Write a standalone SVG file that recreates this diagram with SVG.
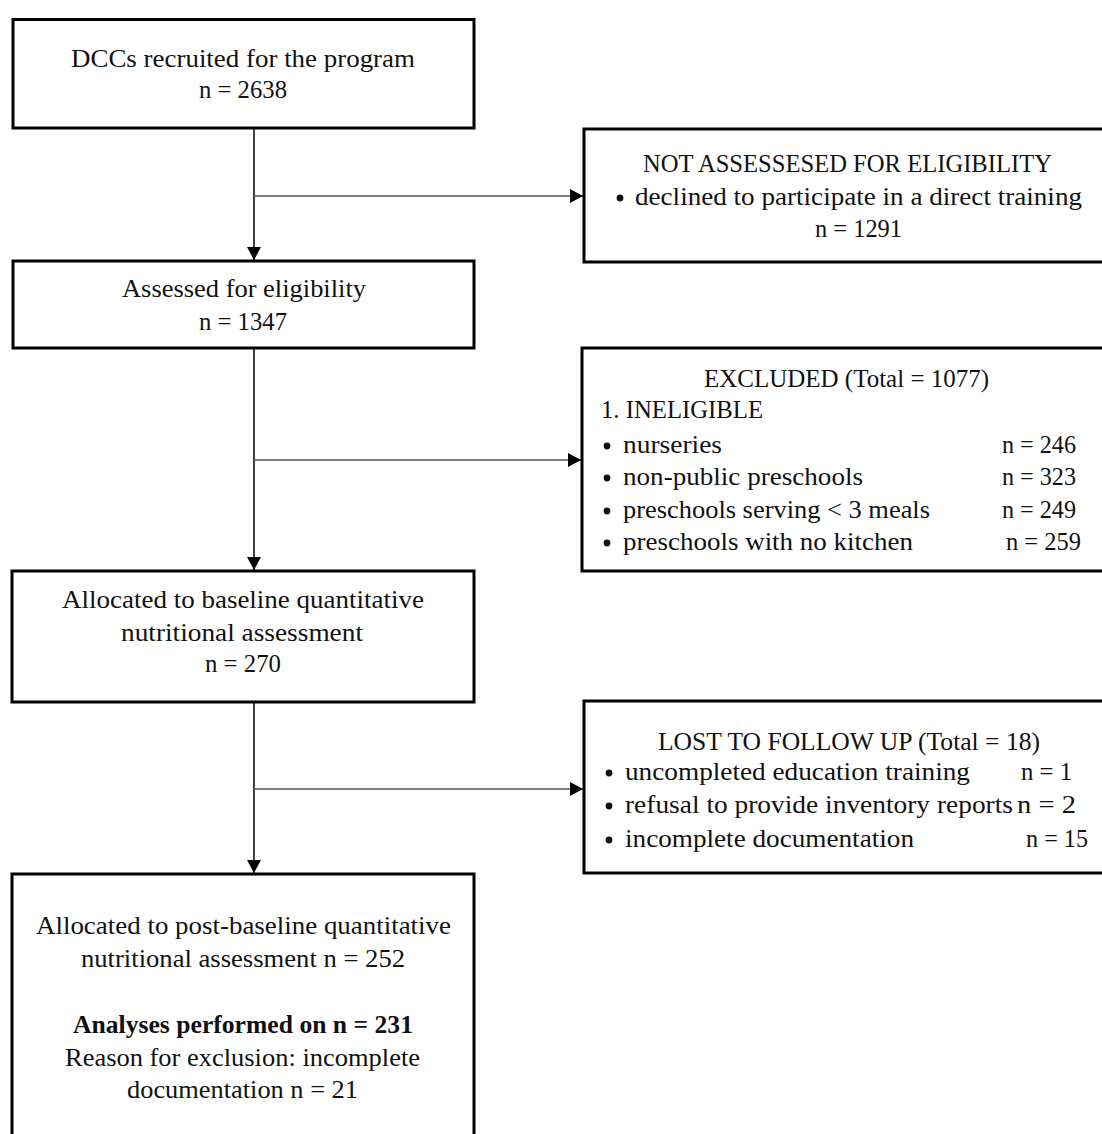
<svg xmlns="http://www.w3.org/2000/svg" width="1102" height="1134" viewBox="0 0 1102 1134">
<style>
.box{fill:#fff;stroke:#000;stroke-width:3}
text{font-family:"Liberation Serif","DejaVu Serif",serif;font-size:25.5px;fill:#111}
.c{text-anchor:middle}
.e{text-anchor:end}
.b{font-weight:bold}
.v{stroke:#111;stroke-width:1.6;fill:none}
.h{stroke:#555;stroke-width:1.6;fill:none}
</style>
<defs>
<marker id="arr" viewBox="0 0 13 14" refX="13" refY="7" markerWidth="13" markerHeight="14" markerUnits="userSpaceOnUse" orient="auto">
<path d="M0,0 L13,7 L0,14 z" fill="#000"/>
</marker>
</defs>
<rect width="1102" height="1134" fill="#fff"/>
<g id="connectors">
<line class="v" x1="254" y1="128" x2="254" y2="260" marker-end="url(#arr)"/>
<line class="h" x1="254" y1="196" x2="583" y2="196" marker-end="url(#arr)"/>
<line class="v" x1="254" y1="348" x2="254" y2="570" marker-end="url(#arr)"/>
<line class="h" x1="254" y1="460" x2="581" y2="460" marker-end="url(#arr)"/>
<line class="v" x1="254" y1="702" x2="254" y2="873" marker-end="url(#arr)"/>
<line class="h" x1="254" y1="789" x2="583" y2="789" marker-end="url(#arr)"/>
</g>
<g id="recruited">
<rect class="box" x="13" y="19.5" width="461" height="108.5"/>
<text x="71" y="67" textLength="344" lengthAdjust="spacingAndGlyphs">DCCs recruited for the program</text>
<text x="199" y="98" textLength="88" lengthAdjust="spacingAndGlyphs">n = 2638</text>
</g>
<g id="not-assessed">
<rect class="box" x="584" y="129" width="530" height="133"/>
<text x="643" y="172" textLength="409" lengthAdjust="spacingAndGlyphs">NOT ASSESSESED FOR ELIGIBILITY</text>
<circle cx="620" cy="198" r="3.4" fill="#111"/>
<text x="635" y="205" textLength="447" lengthAdjust="spacingAndGlyphs">declined to participate in a direct training</text>
<text x="815" y="237" textLength="87" lengthAdjust="spacingAndGlyphs">n = 1291</text>
</g>
<g id="assessed">
<rect class="box" x="13" y="261" width="461" height="87"/>
<text x="122" y="297" textLength="244" lengthAdjust="spacingAndGlyphs">Assessed for eligibility</text>
<text x="199" y="330" textLength="88" lengthAdjust="spacingAndGlyphs">n = 1347</text>
</g>
<g id="excluded">
<rect class="box" x="582" y="348" width="532" height="223"/>
<text x="704" y="387" textLength="285" lengthAdjust="spacingAndGlyphs">EXCLUDED (Total = 1077)</text>
<text x="601" y="418" textLength="162" lengthAdjust="spacingAndGlyphs">1. INELIGIBLE</text>
<circle cx="607" cy="446" r="3.4" fill="#111"/>
<text x="623" y="453" textLength="99" lengthAdjust="spacingAndGlyphs">nurseries</text>
<text x="1002" y="453" textLength="74" lengthAdjust="spacingAndGlyphs">n = 246</text>
<circle cx="607" cy="478" r="3.4" fill="#111"/>
<text x="623" y="485" textLength="240" lengthAdjust="spacingAndGlyphs">non-public preschools</text>
<text x="1002" y="485" textLength="74" lengthAdjust="spacingAndGlyphs">n = 323</text>
<circle cx="607" cy="511" r="3.4" fill="#111"/>
<text x="623" y="518" textLength="307" lengthAdjust="spacingAndGlyphs">preschools serving &lt; 3 meals</text>
<text x="1002" y="518" textLength="74" lengthAdjust="spacingAndGlyphs">n = 249</text>
<circle cx="607" cy="543" r="3.4" fill="#111"/>
<text x="623" y="550" textLength="290" lengthAdjust="spacingAndGlyphs">preschools with no kitchen</text>
<text x="1006" y="550" textLength="75" lengthAdjust="spacingAndGlyphs">n = 259</text>
</g>
<g id="baseline">
<rect class="box" x="12" y="571" width="462" height="131"/>
<text x="62" y="608" textLength="362" lengthAdjust="spacingAndGlyphs">Allocated to baseline quantitative</text>
<text x="121" y="641" textLength="242" lengthAdjust="spacingAndGlyphs">nutritional assessment</text>
<text x="205" y="672" textLength="76" lengthAdjust="spacingAndGlyphs">n = 270</text>
</g>
<g id="lost">
<rect class="box" x="584" y="701" width="530" height="172"/>
<text x="658" y="750" textLength="382" lengthAdjust="spacingAndGlyphs">LOST TO FOLLOW UP (Total = 18)</text>
<circle cx="609" cy="773" r="3.4" fill="#111"/>
<text x="625" y="780" textLength="345" lengthAdjust="spacingAndGlyphs">uncompleted education training</text>
<text x="1021" y="780" textLength="51" lengthAdjust="spacingAndGlyphs">n = 1</text>
<circle cx="609" cy="806" r="3.4" fill="#111"/>
<text x="625" y="813" textLength="388" lengthAdjust="spacingAndGlyphs">refusal to provide inventory reports</text>
<text x="1017" y="813" textLength="59" lengthAdjust="spacingAndGlyphs">n = 2</text>
<circle cx="609" cy="840" r="3.4" fill="#111"/>
<text x="625" y="847" textLength="289" lengthAdjust="spacingAndGlyphs">incomplete documentation</text>
<text x="1026" y="847" textLength="62" lengthAdjust="spacingAndGlyphs">n = 15</text>
</g>
<g id="post-baseline">
<rect class="box" x="12" y="874" width="462" height="280"/>
<text x="36" y="934" textLength="415" lengthAdjust="spacingAndGlyphs">Allocated to post-baseline quantitative</text>
<text x="81" y="967" textLength="324" lengthAdjust="spacingAndGlyphs">nutritional assessment n = 252</text>
<text class="b" x="73" y="1033" textLength="340" lengthAdjust="spacingAndGlyphs">Analyses performed on n = 231</text>
<text x="65" y="1066" textLength="355" lengthAdjust="spacingAndGlyphs">Reason for exclusion: incomplete</text>
<text x="127" y="1098" textLength="231" lengthAdjust="spacingAndGlyphs">documentation n = 21</text>
</g>
</svg>
